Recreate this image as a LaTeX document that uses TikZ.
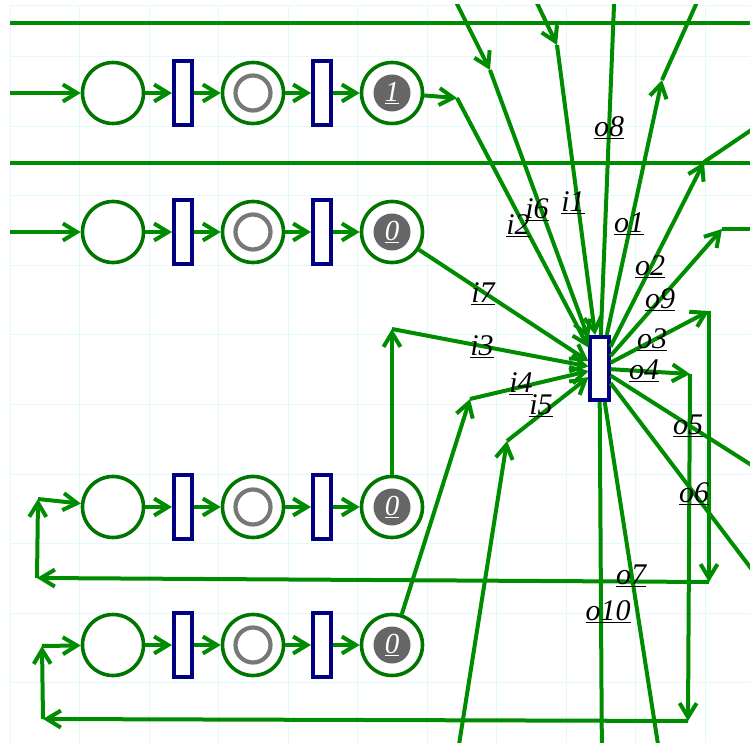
\documentclass[tikz,border=0pt]{standalone}
\usepackage{fontspec}
\setmainfont{Liberation Serif}
\usetikzlibrary{arrows.meta}

\definecolor{verdearco}{RGB}{0,140,0}
\definecolor{verdelugar}{RGB}{0,118,0}
\definecolor{azultrans}{RGB}{0,0,128}
\definecolor{grisficha}{RGB}{102,102,102}
\definecolor{grisanillo}{RGB}{120,120,120}
\definecolor{rejilla}{RGB}{225,251,251}

\begin{document}
\begin{tikzpicture}[x=1pt, y=-1pt,
  lugar/.style={circle, draw=verdelugar, line width=3.6pt, fill=white, minimum size=61pt, inner sep=0pt},
  trans/.style={rectangle, draw=azultrans, line width=3.6pt, fill=white, minimum width=18.5pt, minimum height=63.5pt, inner sep=0pt},
  anillo/.style={circle, draw=grisanillo, line width=4.2pt, minimum size=35pt, inner sep=0pt},
  ficha/.style={circle, fill=grisficha, minimum size=37pt, inner sep=0pt, text=white, font=\fontsize{29}{29}\selectfont\itshape},
  arco/.style={draw=verdearco, line width=4pt, -{Straight Barb[length=14pt,width=17pt]}},
  etiq/.style={font=\fontsize{30}{30}\selectfont\itshape, inner sep=0pt}]
  \useasboundingbox (0,0) rectangle (750,743);
  \clip (10,5) rectangle (750,743);

  % Rejilla de fondo
  \foreach \gx in {10,79.5,...,750} \draw[rejilla, line width=1pt] (\gx,5) -- (\gx,743);
  \foreach \gy in {57,126.5,...,743} \draw[rejilla, line width=1pt] (10,\gy) -- (750,\gy);
  \draw[rejilla, line width=1pt] (10,5.5) -- (750,5.5);

  % Filas de lugares y transiciones
  \node[lugar] (p11) at (113,93) {};
  \node[trans] (t11) at (183,93) {};
  \node[lugar] (p12) at (253,93) {};
  \node[anillo] (a12) at (p12) {};
  \node[trans] (t12) at (322,93) {};
  \node[lugar] (p13) at (392,93) {};
  \node[ficha] (m13) at (p13) {\underline{1}};

  \node[lugar] (p21) at (113,232) {};
  \node[trans] (t21) at (183,232) {};
  \node[lugar] (p22) at (253,232) {};
  \node[anillo] (a22) at (p22) {};
  \node[trans] (t22) at (322,232) {};
  \node[lugar] (p23) at (392,232) {};
  \node[ficha] (m23) at (p23) {\underline{0}};

  \node[lugar] (p31) at (113,507) {};
  \node[trans] (t31) at (183,507) {};
  \node[lugar] (p32) at (253,507) {};
  \node[anillo] (a32) at (p32) {};
  \node[trans] (t32) at (322,507) {};
  \node[lugar] (p33) at (392,507) {};
  \node[ficha] (m33) at (p33) {\underline{0}};

  \node[lugar] (p41) at (113,645) {};
  \node[trans] (t41) at (183,645) {};
  \node[lugar] (p42) at (253,645) {};
  \node[anillo] (a42) at (p42) {};
  \node[trans] (t42) at (322,645) {};
  \node[lugar] (p43) at (392,645) {};
  \node[ficha] (m43) at (p43) {\underline{0}};

  % Transicion central
  \node[trans] (tc) at (599.5,368.5) {};

  % Extremos y codos
  \coordinate (e1) at (10,93);
  \coordinate (e2) at (10,232);
  \coordinate (hA0) at (10,23);   \coordinate (hA1) at (770,23);
  \coordinate (hB0) at (10,163);  \coordinate (hB1) at (770,163);
  \coordinate (b2) at (457,98);
  \coordinate (s6) at (445,-20);  \coordinate (b6) at (490,70);
  \coordinate (s1) at (526,-20);  \coordinate (b1) at (557,45);
  \coordinate (b3) at (392,329);
  \coordinate (b4) at (470,399);
  \coordinate (s5) at (455,770);  \coordinate (b5) at (507,441);
  \coordinate (f8) at (615,-20);
  \coordinate (c1) at (662,80);   \coordinate (f1) at (707,-20);
  \coordinate (c2) at (704,162);  \coordinate (f2) at (775,114);
  \coordinate (c9) at (722,229);  \coordinate (f9) at (775,229);
  \coordinate (c3a) at (709,311); \coordinate (c3b) at (709,582);
  \coordinate (c3c) at (37,578);  \coordinate (c3d) at (38,499);
  \coordinate (c4a) at (690,374); \coordinate (c4b) at (688,721);
  \coordinate (c4c) at (43,719);  \coordinate (c4d) at (42,646);
  \coordinate (f5) at (775,480);
  \coordinate (f6) at (775,600);
  \coordinate (f7) at (662,770);
  \coordinate (f10) at (602,770);

  % Arcos de las filas
  \draw[arco] (e1) -- (p11);
  \draw[arco] (p11) -- (t11);
  \draw[arco] (t11) -- (p12);
  \draw[arco] (p12) -- (t12);
  \draw[arco] (t12) -- (p13);
  \draw[arco] (e2) -- (p21);
  \draw[arco] (p21) -- (t21);
  \draw[arco] (t21) -- (p22);
  \draw[arco] (p22) -- (t22);
  \draw[arco] (t22) -- (p23);
  \draw[arco] (p31) -- (t31);
  \draw[arco] (t31) -- (p32);
  \draw[arco] (p32) -- (t32);
  \draw[arco] (t32) -- (p33);
  \draw[arco] (p41) -- (t41);
  \draw[arco] (t41) -- (p42);
  \draw[arco] (p42) -- (t42);
  \draw[arco] (t42) -- (p43);
  \draw[arco] (hA0) -- (hA1);
  \draw[arco] (hB0) -- (hB1);

  % Entradas de la transicion central
  \draw[arco] (p13) -- (b2);  \draw[arco] (b2) -- (tc);
  \draw[arco] (s6) -- (b6);   \draw[arco] (b6) -- (tc);
  \draw[arco] (s1) -- (b1);   \draw[arco] (b1) -- (tc);
  \draw[arco] (p23) -- (tc);
  \draw[arco] (p33) -- (b3);  \draw[arco] (b3) -- (tc);
  \draw[arco] (p43) -- (b4);  \draw[arco] (b4) -- (tc);
  \draw[arco] (s5) -- (b5);   \draw[arco] (b5) -- (tc);

  % Salidas de la transicion central
  \draw[arco] (tc) -- (f8);
  \draw[arco] (tc) -- (c1);   \draw[arco] (c1) -- (f1);
  \draw[arco] (tc) -- (c2);   \draw[arco] (c2) -- (f2);
  \draw[arco] (tc) -- (c9);   \draw[arco] (c9) -- (f9);
  \draw[arco] (tc) -- (c3a);  \draw[arco] (c3a) -- (c3b);
  \draw[arco] (c3b) -- (c3c); \draw[arco] (c3c) -- (c3d);
  \draw[arco] (c3d) -- (p31);
  \draw[arco] (tc) -- (c4a);  \draw[arco] (c4a) -- (c4b);
  \draw[arco] (c4b) -- (c4c); \draw[arco] (c4c) -- (c4d);
  \draw[arco] (c4d) -- (p41);
  \draw[arco] (tc) -- (f5);
  \draw[arco] (tc) -- (f6);
  \draw[arco] (tc) -- (f7);
  \draw[arco] (tc) -- (f10);

  % Etiquetas
  \node[etiq] (eo8) at (609,128) {\underline{o8}};
  \node[etiq] (ei1) at (573,203) {\underline{i1}};
  \node[etiq] (ei6) at (537,210) {\underline{i6}};
  \node[etiq] (ei2) at (518,226) {\underline{i2}};
  \node[etiq] (eo1) at (629,224) {\underline{o1}};
  \node[etiq] (eo2) at (650,267) {\underline{o2}};
  \node[etiq] (ei7) at (483,294) {\underline{i7}};
  \node[etiq] (eo9) at (660,300) {\underline{o9}};
  \node[etiq] (ei3) at (482,347) {\underline{i3}};
  \node[etiq] (eo3) at (652,340) {\underline{o3}};
  \node[etiq] (eo4) at (644,371) {\underline{o4}};
  \node[etiq] (ei4) at (521,384) {\underline{i4}};
  \node[etiq] (ei5) at (541,406) {\underline{i5}};
  \node[etiq] (eo5) at (688,426) {\underline{o5}};
  \node[etiq] (eo6) at (694,494) {\underline{o6}};
  \node[etiq] (eo7) at (631,576) {\underline{o7}};
  \node[etiq] (eo10) at (608,612) {\underline{o10}};
\end{tikzpicture}
\end{document}
